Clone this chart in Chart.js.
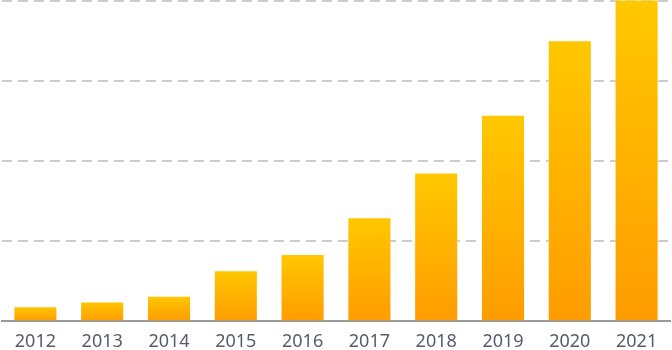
<!DOCTYPE html>
<html>
<head>
<meta charset="utf-8">
<script src="https://cdn.jsdelivr.net/npm/chart.js@4/dist/chart.umd.min.js"></script>
<style>
html,body{margin:0;padding:0;background:#fff;}
#wrap{width:672px;height:350px;}
</style>
</head>
<body>
<div id="wrap"><canvas id="chart" width="672" height="350"></canvas></div>
<script>
/* data */
const years = ['2012','2013','2014','2015','2016','2017','2018','2019','2020','2021'];
const values = [0.19,0.25,0.32,0.64,0.84,1.30,1.86,2.58,3.51,4.02];
const yTicks = [0,1,2,3,4];

/* per-bar gradient, yellow on top to orange at base */
function barFill(c){
  const chart=c.chart;
  if(!chart.chartArea) return '#ffb300';
  const y=chart.scales.y;
  const top=y.getPixelForValue(c.raw);
  const bot=y.getPixelForValue(0);
  const g=chart.ctx.createLinearGradient(0,top,0,bot);
  g.addColorStop(0,'#ffc800');
  g.addColorStop(1,'#ff9c00');
  return g;
}

new Chart(document.getElementById('chart'),{
  type:'bar',
  data:{labels:years,datasets:[{
    data:values,
    backgroundColor:barFill,
    borderColor:'rgba(255,255,255,0.45)',
    borderWidth:1,
    barPercentage:0.66,
    categoryPercentage:1,
    clip:false
  }]},
  options:{
    responsive:false,
    animation:false,
    layout:{padding:{left:2,right:2,top:1,bottom:-13}},
    plugins:{legend:{display:false},tooltip:{enabled:false}},
    scales:{
      x:{
        grid:{display:false,drawTicks:false},
        border:{color:'#999',width:2},
        ticks:{color:'#585c68',padding:10,font:{family:'"Noto Sans"',size:18}}
      },
      y:{
        min:yTicks[0],max:yTicks[yTicks.length-1],
        afterBuildTicks:s=>{s.ticks=yTicks.map(v=>({value:v}));},
        ticks:{display:false},
        border:{display:false,dash:[10,6]},
        grid:{color:'#cccccc',lineWidth:2,drawTicks:false}
      }
    }
  }
});
</script>
</body>
</html>
